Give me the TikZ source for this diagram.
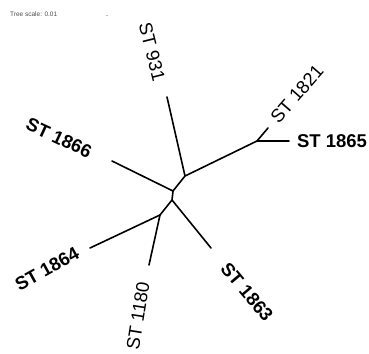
\documentclass[tikz,border=0pt]{standalone}
\usepackage{fontspec}
\setmainfont{Liberation Sans}
\usetikzlibrary{positioning}

\begin{document}
\begin{tikzpicture}[
  x=1pt, y=-1pt,
  branch/.style={line width=1.6pt, line join=round, line cap=round},
  leaf/.style={inner sep=0pt, font=\fontsize{18.5}{20}\selectfont},
  bold leaf/.style={leaf, font=\fontsize{18.5}{20}\selectfont\bfseries},
  scale label/.style={inner sep=0pt, anchor=west, text=black!70, font=\fontsize{6.5}{7}\selectfont}
]
  \useasboundingbox (0,0) rectangle (369,353);

  % inner nodes
  \coordinate (n1) at (185,176);
  \coordinate (n2) at (173,191);
  \coordinate (n3) at (172,200);
  \coordinate (n4) at (160,215);
  \coordinate (n5) at (257,141);

  % branch tips
  \coordinate (t931)  at (167,97);
  \coordinate (t1821) at (268,128);
  \coordinate (t1865) at (289,141);
  \coordinate (t1866) at (112,161);
  \coordinate (t1863) at (211,248);
  \coordinate (t1180) at (149,265);
  \coordinate (t1864) at (90,248);

  % tree
  \draw[branch] (t931) -- (n1) -- (n5) -- (t1865);
  \draw[branch] (n5) -- (t1821);
  \draw[branch] (n1) -- (n2) -- (n3) -- (n4) -- (t1864);
  \draw[branch] (n2) -- (t1866);
  \draw[branch] (n3) -- (t1863);
  \draw[branch] (n4) -- (t1180);

  % labels
  \node[leaf, rotate=-76]      (l931)  at (152,52)  {ST 931};
  \node[leaf, rotate=49]       (l1821) at (297,94)  {ST 1821};
  \node[bold leaf]             (l1865) at (332,141) {ST 1865};
  \node[bold leaf, rotate=-25] (l1866) at (59,138)  {ST 1866};
  \node[bold leaf, rotate=29]  (l1864) at (47,269)  {ST 1864};
  \node[leaf, rotate=81]       (l1180) at (138,316) {ST 1180};
  \node[bold leaf, rotate=-50] (l1863) at (247,292) {ST 1863};

  % scale
  \node[scale label] (scale) at (10,14.5) {Tree scale: 0.01};
  \coordinate (s1) at (105.5,15);
  \coordinate (s2) at (108,15);
  \draw[line width=0.5pt, black!25] (s1) -- (s2);
\end{tikzpicture}
\end{document}
